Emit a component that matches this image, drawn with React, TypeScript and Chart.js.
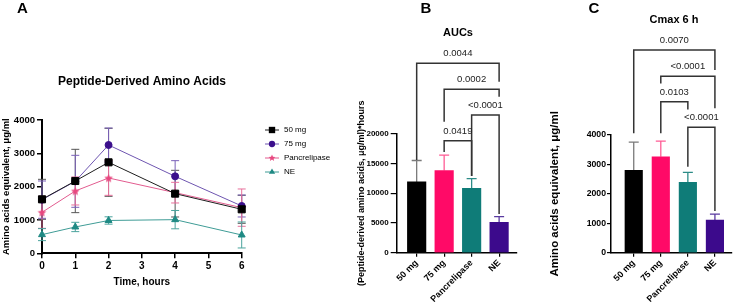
import React, { useEffect, useRef } from 'react';
import { Chart, registerables } from 'chart.js';
Chart.register(...registerables);

const FONT = "'Liberation Sans', Arial, Helvetica, sans-serif";

// ---------- Panel A: time course ----------
const timeHours = [0, 1, 2, 4, 6];
const groups = ['50 mg', '75 mg', 'Pancrelipase', 'NE'];
const conc50 = [1620, 2170, 2730, 1790, 1320];
const sd50 = [600, 950, 1020, 700, 420];
const conc75 = [1610, 2160, 3250, 2310, 1420];
const sd75 = [560, 780, 510, 470, 330];
const concPanc = [1230, 1870, 2260, 1820, 1370];
const sdPanc = [480, 420, 520, 310, 560];
const concNE = [560, 790, 985, 1010, 550];
const sdNE = [180, 140, 110, 275, 390];

// ---------- Panel B: AUCs ----------
const aucMean = [11900, 13800, 10800, 5100];
const aucSd = [3600, 2600, 1650, 950];
const aucPairs = [[0, 3], [1, 3], [2, 3], [1, 2]];
const aucPLabels = ['0.0044', '0.0002', '<0.0001', '0.0419'];
const aucBracketTop = [31830, 27460, 23140, 18820];
const aucLegEnds = [[15580, 28740], [22020, 26220], [12890, 6500], [16920, 12890]];

// ---------- Panel C: Cmax ----------
const cmaxMean = [2800, 3260, 2390, 1110];
const cmaxSd = [960, 530, 340, 200];
const cmaxPairs = [[0, 3], [1, 3], [1, 2], [2, 3]];
const cmaxPLabels = ['0.0070', '<0.0001', '0.0103', '<0.0001'];
const cmaxBracketTop = [6890, 6000, 5130, 4260];
const cmaxLegEnds = [[4060, 6210], [5750, 4910], [4060, 4870], [2920, 1420]];

const seriesA = [conc50, conc75, concPanc, concNE];
const sdA = [sd50, sd75, sdPanc, sdNE];
const lineColors = ['#1e1e1e', '#6e55b0', '#e25b8f', '#3f9c96'];
const markerColors = ['#000000', '#3b0f8c', '#e8477f', '#1f8a84'];
const errColorsA = ['#555555', '#7a60b8', '#e8709c', '#4aa39d'];
const pointStyles = ['rect', 'circle', 'star', 'triangle'];
const pointRadii = [5, 3.5, 4, 4];
const barColors = ['#000000', '#ff0a67', '#0f7c78', '#3c0a8c'];
const barErrColors = ['#7a7a7a', '#ff5c95', '#2c8c87', '#5a3aa0'];

function txt(ctx: CanvasRenderingContext2D, s: string, x: number, y: number, size: number, weight: string, color = '#000', rot = 0, align: CanvasTextAlign = 'center') {
  ctx.save();
  ctx.translate(x, y);
  ctx.rotate(rot);
  ctx.font = `${weight} ${size}px ${FONT}`;
  ctx.fillStyle = color;
  ctx.textAlign = align;
  ctx.textBaseline = 'middle';
  ctx.fillText(s, 0, 0);
  ctx.restore();
}

function starPath(ctx: CanvasRenderingContext2D, x: number, y: number, r: number) {
  const inner = r * 0.45;
  ctx.beginPath();
  for (let k = 0; k < 10; k++) {
    const rr = k % 2 === 0 ? r : inner;
    const a = -Math.PI / 2 + (k * Math.PI) / 5;
    const px = x + Math.cos(a) * rr, py = y + Math.sin(a) * rr;
    if (k === 0) ctx.moveTo(px, py); else ctx.lineTo(px, py);
  }
  ctx.closePath();
}

function makeStarImage(color: string, r: number) {
  const c = document.createElement('canvas');
  const s = Math.ceil(r * 2 + 2);
  c.width = s; c.height = s;
  const g = c.getContext('2d')!;
  g.fillStyle = color;
  starPath(g, s / 2, s / 2 + 0.5, r);
  g.fill();
  return c;
}

function marker(ctx: CanvasRenderingContext2D, style: string, x: number, y: number, r: number, color: string) {
  ctx.save();
  ctx.fillStyle = color;
  ctx.beginPath();
  if (style === 'rect') {
    const s = r * Math.SQRT1_2;
    ctx.rect(x - s, y - s, 2 * s, 2 * s);
  } else if (style === 'circle') {
    ctx.arc(x, y, r, 0, Math.PI * 2);
  } else if (style === 'triangle') {
    ctx.moveTo(x, y - r);
    ctx.lineTo(x + r * 0.866, y + r * 0.5);
    ctx.lineTo(x - r * 0.866, y + r * 0.5);
    ctx.closePath();
  } else {
    starPath(ctx, x, y, r);
  }
  ctx.fill();
  ctx.restore();
}

const axisTickFont = (size: number) => ({ family: FONT, size, weight: 'bold' as const });
const plainNum = (v: any) => String(v);

function fixedWidth(w: number) {
  return (s: any) => { s.width = w; };
}
function fixedHeight(h: number) {
  return (s: any) => { s.height = h; };
}

function makeA(canvas: HTMLCanvasElement) {
  const star = makeStarImage(markerColors[2], 4.5);
  const deco = {
    id: 'decoA',
    beforeDatasetsDraw(chart: any) {
      const { ctx } = chart;
      const x = chart.scales.x, y = chart.scales.y;
      ctx.save();
      seriesA.forEach((vals, i) => {
        ctx.strokeStyle = errColorsA[i];
        ctx.lineWidth = 1;
        vals.forEach((v, j) => {
          const px = x.getPixelForValue(timeHours[j]);
          const top = y.getPixelForValue(v + sdA[i][j]);
          const bot = y.getPixelForValue(Math.max(0, v - sdA[i][j]));
          ctx.beginPath();
          ctx.moveTo(px, top); ctx.lineTo(px, bot);
          ctx.moveTo(px - 4, top); ctx.lineTo(px + 4, top);
          ctx.moveTo(px - 4, bot); ctx.lineTo(px + 4, bot);
          ctx.stroke();
        });
      });
      ctx.restore();
    },
    afterDraw(chart: any) {
      const { ctx } = chart;
      const area = chart.chartArea;
      txt(ctx, 'A', 22.5, 9, 15, 'bold');
      txt(ctx, 'Peptide-Derived Amino Acids', 142, 82, 12, 'bold');
      txt(ctx, 'Time, hours', (area.left + area.right) / 2, 282, 10, 'bold');
      txt(ctx, 'Amino acids equivalent, \u03bcg/ml', 6, (area.top + area.bottom) / 2, 9.5, 'bold', '#000', -Math.PI / 2);
      groups.forEach((g, i) => {
        const ly = 130 + i * 14;
        ctx.save();
        ctx.strokeStyle = lineColors[i];
        ctx.lineWidth = 1;
        ctx.beginPath();
        ctx.moveTo(265, ly); ctx.lineTo(279, ly);
        ctx.stroke();
        ctx.restore();
        marker(ctx, pointStyles[i], 272, ly, pointRadii[i] * 0.9, markerColors[i]);
        txt(ctx, g, 284, ly, 8, 'normal', '#000', 0, 'left');
      });
    },
  };
  return new Chart(canvas, {
    type: 'line',
    data: {
      datasets: groups.map((g, i) => ({
        label: g,
        data: timeHours.map((t, j) => ({ x: t, y: seriesA[i][j] })),
        borderColor: lineColors[i],
        borderWidth: 1,
        pointStyle: (i === 2 ? star : pointStyles[i]) as any,
        pointRadius: pointRadii[i],
        pointBackgroundColor: markerColors[i],
        pointBorderColor: markerColors[i],
        pointBorderWidth: 1,
        tension: 0,
        fill: false,
        clip: false as any,
      })),
    },
    options: {
      responsive: false,
      animation: false,
      events: [],
      layout: { padding: { left: 0, top: 120, right: 734 - 241.7, bottom: 305 - 253.3 - 40 } },
      plugins: { legend: { display: false }, title: { display: false }, tooltip: { enabled: false } },
      scales: {
        x: {
          type: 'linear', min: 0, max: 6,
          ticks: { stepSize: 1, font: axisTickFont(10), color: '#000', padding: 2, callback: plainNum },
          grid: { drawOnChartArea: false, drawTicks: true, tickLength: 5, color: '#000', lineWidth: 1.5 },
          border: { color: '#000', width: 2 },
          afterFit: fixedHeight(40),
        },
        y: {
          min: 0, max: 4000,
          ticks: { stepSize: 1000, font: axisTickFont(9.5), color: '#000', padding: 2, callback: plainNum },
          grid: { drawOnChartArea: false, drawTicks: true, tickLength: 5, color: '#000', lineWidth: 1.5 },
          border: { color: '#000', width: 2 },
          afterFit: fixedWidth(42),
        },
      },
    } as any,
    plugins: [deco],
  });
}

interface BarSpec {
  letter: string; letterX: number; title: string; titleX: number; titleY: number;
  yTitle: string; yTitleX: number; yTitleSize: number;
  means: number[]; sds: number[];
  pairs: number[][]; labels: string[]; tops: number[]; legs: number[][];
  padLeft: number; yWidth: number; padRight: number; padTop: number;
  xMin: number; xMax: number; yMax: number; yStep: number; yTickSize: number;
  yTickLen: number; yTickPad: number; barThickness: number;
}

function makeBar(canvas: HTMLCanvasElement, sp: BarSpec) {
  const deco = {
    id: 'decoBar',
    beforeDatasetsDraw(chart: any) {
      const { ctx } = chart;
      const x = chart.scales.x, y = chart.scales.y;
      ctx.save();
      sp.means.forEach((m, i) => {
        const px = x.getPixelForValue(i);
        const top = y.getPixelForValue(m + sp.sds[i]);
        const base = y.getPixelForValue(m);
        ctx.strokeStyle = barErrColors[i];
        ctx.lineWidth = 1.3;
        ctx.beginPath();
        ctx.moveTo(px, base); ctx.lineTo(px, top);
        ctx.moveTo(px - 5, top); ctx.lineTo(px + 5, top);
        ctx.stroke();
      });
      ctx.restore();
    },
    afterDraw(chart: any) {
      const { ctx } = chart;
      const x = chart.scales.x, y = chart.scales.y;
      const area = chart.chartArea;
      txt(ctx, sp.letter, sp.letterX, 9, 15, 'bold');
      txt(ctx, sp.title, sp.titleX, sp.titleY, 11, 'bold');
      txt(ctx, sp.yTitle, sp.yTitleX, (area.top + area.bottom) / 2, sp.yTitleSize, 'bold', '#000', -Math.PI / 2);
      ctx.save();
      ctx.strokeStyle = '#333333';
      ctx.lineWidth = 1.5;
      sp.pairs.forEach(([a, b], k) => {
        const xa = x.getPixelForValue(a), xb = x.getPixelForValue(b);
        const yt = y.getPixelForValue(sp.tops[k]);
        const ya = y.getPixelForValue(sp.legs[k][0]);
        const yb = y.getPixelForValue(sp.legs[k][1]);
        ctx.beginPath();
        ctx.moveTo(xa, ya); ctx.lineTo(xa, yt); ctx.lineTo(xb, yt); ctx.lineTo(xb, yb);
        ctx.stroke();
        txt(ctx, sp.labels[k], (xa + xb) / 2, yt - 9.5, 9.5, 'normal', '#222');
      });
      ctx.restore();
    },
  };
  return new Chart(canvas, {
    type: 'bar',
    data: {
      datasets: [{
        data: sp.means.map((m, i) => ({ x: i, y: m })),
        backgroundColor: barColors,
        borderWidth: 0,
        barThickness: sp.barThickness,
      }],
    },
    options: {
      responsive: false,
      animation: false,
      events: [],
      layout: { padding: { left: sp.padLeft, top: sp.padTop, right: sp.padRight, bottom: 0 } },
      plugins: { legend: { display: false }, title: { display: false }, tooltip: { enabled: false } },
      scales: {
        x: {
          type: 'linear', min: sp.xMin, max: sp.xMax, offset: false,
          afterBuildTicks: (s: any) => { s.ticks = groups.map((_, i) => ({ value: i })); },
          ticks: {
            callback: (v: any) => groups[v],
            minRotation: 45, maxRotation: 45, autoSkip: false,
            font: axisTickFont(9), color: '#000', padding: 1,
          },
          grid: { offset: false, drawOnChartArea: false, drawTicks: true, tickLength: 4, color: '#000', lineWidth: 1.2 },
          border: { color: '#000', width: 1.5 },
          afterFit: fixedHeight(305 - 252.7),
        },
        y: {
          min: 0, max: sp.yMax,
          ticks: { stepSize: sp.yStep, font: axisTickFont(sp.yTickSize), color: '#000', padding: sp.yTickPad, callback: plainNum },
          grid: { drawOnChartArea: false, drawTicks: true, tickLength: sp.yTickLen, color: '#000', lineWidth: 1.2 },
          border: { color: '#000', width: 1.5 },
          afterFit: fixedWidth(sp.yWidth),
        },
      },
    } as any,
    plugins: [deco],
  });
}

export default function App() {
  const refA = useRef<HTMLCanvasElement>(null);
  const refB = useRef<HTMLCanvasElement>(null);
  const refC = useRef<HTMLCanvasElement>(null);

  useEffect(() => {
    const charts: Chart[] = [];
    if (refA.current) charts.push(makeA(refA.current));
    if (refB.current) charts.push(makeBar(refB.current, {
      letter: 'B', letterX: 426, title: 'AUCs', titleX: 458, titleY: 33,
      yTitle: '(Peptide-derived amino acids, \u03bcg/ml)*hours', yTitleX: 362, yTitleSize: 9,
      means: aucMean, sds: aucSd,
      pairs: aucPairs, labels: aucPLabels, tops: aucBracketTop, legs: aucLegEnds,
      padLeft: 350, yWidth: 46.7, padRight: 734 - 516.7, padTop: 133.7,
      xMin: -0.727, xMax: 3.64, yMax: 20000, yStep: 5000, yTickSize: 8,
      yTickLen: 6, yTickPad: 2, barThickness: 18.5,
    }));
    if (refC.current) charts.push(makeBar(refC.current, {
      letter: 'C', letterX: 594, title: 'Cmax 6 h', titleX: 674, titleY: 20,
      yTitle: 'Amino acids equivalent, \u03bcg/ml', yTitleX: 555, yTitleSize: 11.5,
      means: cmaxMean, sds: cmaxSd,
      pairs: cmaxPairs, labels: cmaxPLabels, tops: cmaxBracketTop, legs: cmaxLegEnds,
      padLeft: 540, yWidth: 71, padRight: 734 - 731.7, padTop: 135,
      xMin: -0.84, xMax: 3.62, yMax: 4000, yStep: 1000, yTickSize: 8.7,
      yTickLen: 4, yTickPad: 1, barThickness: 17.5,
    }));
    return () => charts.forEach((c) => c.destroy());
  }, []);

  const cs: React.CSSProperties = { position: 'absolute', left: 0, top: 0, width: 734, height: 305 };
  return (
    <div style={{ position: 'absolute', left: 0, top: 0, width: 734, height: 305, background: '#fff' }}>
      <canvas ref={refA} width={734} height={305} style={cs} />
      <canvas ref={refB} width={734} height={305} style={cs} />
      <canvas ref={refC} width={734} height={305} style={cs} />
    </div>
  );
}
